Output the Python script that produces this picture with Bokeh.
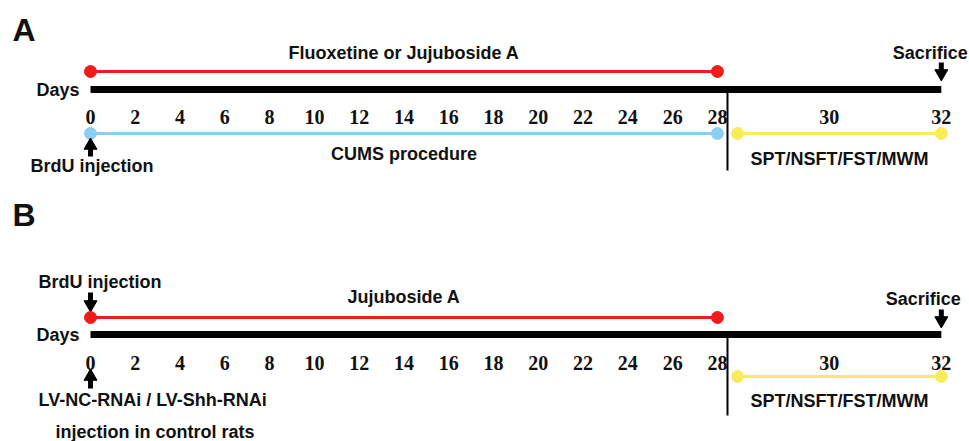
import numpy as np
from bokeh.plotting import figure
from bokeh.models import Range1d
from bokeh.core.properties import value
from bokeh.embed import file_html
from bokeh.resources import INLINE

# ---------------- data ----------------
tick_days = [0, 2, 4, 6, 8, 10, 12, 14, 16, 18, 20, 22, 24, 26, 28, 30, 32]
treatment_days = [0, 28]          # drug / CUMS period
test_days = [28, 32]              # SPT/NSFT/FST/MWM behavioural tests
timeline_days = [0, 32]
brdu_day = 0
lv_day = 0
sacrifice_day = 32

panel_A_drug = "Fluoxetine or Jujuboside A"
panel_A_stress = "CUMS procedure"
panel_B_drug = "Jujuboside A"
tests_label = "SPT/NSFT/FST/MWM"

# ---------------- layout ----------------
W, H = 969, 441
PX_PER_DAY = 22.39
X0 = 90                      # screen x of day 0
AFTER28 = 2.5                # timeline drawn stretched after day 28
GAP = 0.9                    # gap between phases at day 28 (display units)

def warp(d):
    d = np.asarray(d, dtype=float)
    return np.where(d <= 28, d, 28 + (d - 28) * AFTER28)

RED = "#f01c1c"
BLUE = "#8ccdf2"
YELLOW = "#f8ec5e"
SANS = value("Liberation Sans")
SERIF = value("Liberation Serif")
FS = 18

p = figure(width=W, height=H, output_backend="svg", toolbar_location=None,
           x_axis_type=None, y_axis_type=None, min_border=0,
           x_range=Range1d(-X0 / PX_PER_DAY, (W - X0) / PX_PER_DAY),
           y_range=Range1d(H, 0))
p.grid.visible = False
p.outline_line_color = None
p.background_fill_color = "white"


def txt(x, y, s, size=FS, align="center", font=SANS, xo=0, baseline="middle"):
    p.text(x=[x], y=[y], text=[s], text_font=font, text_font_style="bold",
           text_font_size=f"{size}px", text_align=align, text_baseline=baseline,
           x_offset=xo, text_color="#111111")


def seg(d0, d1, y, color, w, dots=True, start_gap=0.0):
    xs = warp([d0, d1]).astype(float)
    xs[0] += start_gap
    p.segment(x0=[xs[0]], y0=[y], x1=[xs[1]], y1=[y], line_color=color,
              line_width=w)
    if dots:
        p.scatter(x=list(xs), y=[y, y], size=12, color=color)


def arrow(d, y_tail, y_tip):
    x = float(warp(d))
    down = y_tip > y_tail
    shaft_end = y_tip - 6 if down else y_tip + 6
    p.segment(x0=[x], y0=[y_tail], x1=[x], y1=[shaft_end], line_color="black",
              line_width=5, line_cap="butt")
    p.scatter(x=[x], y=[y_tip - 4 if down else y_tip + 4],
              marker="inverted_triangle" if down else "triangle",
              size=13, color="black")


def timeline(y_bar, y_ticks):
    xs = warp(timeline_days)
    p.segment(x0=[xs[0]], y0=[y_bar], x1=[xs[1]], y1=[y_bar],
              line_color="black", line_width=7, line_cap="butt")
    p.text(x=list(warp(tick_days)), y=[y_ticks] * len(tick_days),
           text=[str(t) for t in tick_days], text_font=SERIF,
           text_font_style="bold", text_font_size="20px", text_align="center",
           text_baseline="middle", text_color="#111111")
    txt(float(warp(timeline_days[0])), y_bar, "Days", align="right", xo=-11)


def separator(y0, y1):
    x = float(warp(28)) + GAP / 2
    p.segment(x0=[x], y0=[y0], x1=[x], y1=[y1], line_color="black", line_width=2)


mid = float(np.mean(warp(treatment_days)))
ty = warp(test_days)
test_mid = (ty[0] + GAP + ty[1]) / 2

# ---------------- panel A ----------------
txt(float(warp(0)), 29, "A", 32, align="left", xo=-78)
txt(mid, 52, panel_A_drug)
seg(*treatment_days, 71, RED, 3)
timeline(89, 116)
seg(*treatment_days, 133, BLUE, 3)
txt(mid, 153, panel_A_stress)
seg(*test_days, 133, YELLOW, 3, start_gap=GAP)
txt(test_mid, 158, tests_label)
separator(92, 170)
txt(float(warp(sacrifice_day)), 52, "Sacrifice", xo=-11)
arrow(sacrifice_day, 62, 77)
arrow(brdu_day, 156, 141)
txt(float(warp(brdu_day)), 165, "BrdU injection", align="left", xo=-60)

# ---------------- panel B ----------------
txt(float(warp(0)), 214, "B", 32, align="left", xo=-78)
txt(float(warp(brdu_day)), 281, "BrdU injection", align="left", xo=-52)
arrow(brdu_day, 292, 308)
txt(mid, 296, panel_B_drug)
seg(*treatment_days, 317, RED, 3)
txt(float(warp(sacrifice_day)), 298, "Sacrifice", xo=-18)
arrow(sacrifice_day, 309, 324)
timeline(334, 362)
seg(*test_days, 376, YELLOW, 3, start_gap=GAP)
txt(test_mid, 400, tests_label)
separator(337, 415)
arrow(lv_day, 388, 372)
txt(float(warp(lv_day)), 399, "LV-NC-RNAi / LV-Shh-RNAi", align="left", xo=-52)
txt(float(warp(lv_day)), 431, "injection in control rats", align="left", xo=-35)

open("out.html", "w").write(file_html(p, INLINE))
